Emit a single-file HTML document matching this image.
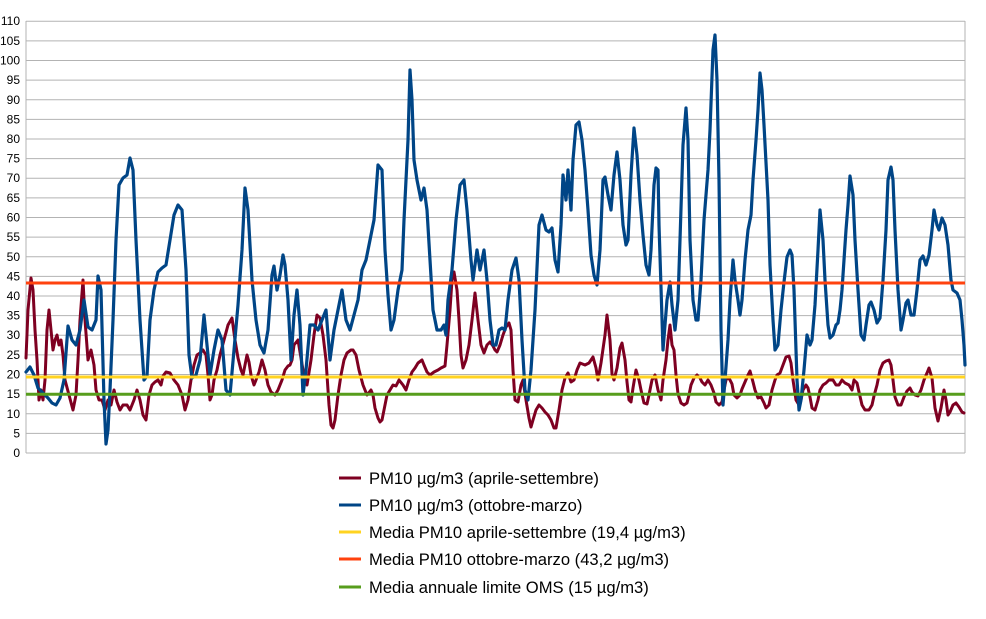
<!DOCTYPE html>
<html><head><meta charset="utf-8"><style>body{margin:0;background:#fff}svg{display:block;font-family:"Liberation Sans",sans-serif}</style></head><body>
<svg width="986" height="619" viewBox="0 0 986 619" xmlns="http://www.w3.org/2000/svg">
<g stroke="#b3b3b3" stroke-width="1">
<line x1="26" x2="965" y1="21.25" y2="21.25"/><line x1="26" x2="965" y1="40.9" y2="40.9"/><line x1="26" x2="965" y1="60.5" y2="60.5"/><line x1="26" x2="965" y1="80.1" y2="80.1"/><line x1="26" x2="965" y1="99.75" y2="99.75"/><line x1="26" x2="965" y1="119.4" y2="119.4"/><line x1="26" x2="965" y1="139" y2="139"/><line x1="26" x2="965" y1="158.6" y2="158.6"/><line x1="26" x2="965" y1="178.25" y2="178.25"/><line x1="26" x2="965" y1="197.9" y2="197.9"/><line x1="26" x2="965" y1="217.5" y2="217.5"/><line x1="26" x2="965" y1="237.1" y2="237.1"/><line x1="26" x2="965" y1="256.75" y2="256.75"/><line x1="26" x2="965" y1="276.4" y2="276.4"/><line x1="26" x2="965" y1="296" y2="296"/><line x1="26" x2="965" y1="315.6" y2="315.6"/><line x1="26" x2="965" y1="335.25" y2="335.25"/><line x1="26" x2="965" y1="354.9" y2="354.9"/><line x1="26" x2="965" y1="374.5" y2="374.5"/><line x1="26" x2="965" y1="394.1" y2="394.1"/><line x1="26" x2="965" y1="413.75" y2="413.75"/><line x1="26" x2="965" y1="433.4" y2="433.4"/><line x1="26" x2="965" y1="453" y2="453"/>
<line x1="26" x2="26" y1="21" y2="453"/><line x1="965" x2="965" y1="21" y2="453"/>
</g>
<g font-size="12" fill="#000" text-anchor="end">
<text x="20" y="25">110</text><text x="20" y="45">105</text><text x="20" y="64.5">100</text><text x="20" y="84">95</text><text x="20" y="104">90</text><text x="20" y="123.5">85</text><text x="20" y="143">80</text><text x="20" y="162.5">75</text><text x="20" y="182">70</text><text x="20" y="202">65</text><text x="20" y="221.5">60</text><text x="20" y="241">55</text><text x="20" y="261">50</text><text x="20" y="280.5">45</text><text x="20" y="300">40</text><text x="20" y="319.5">35</text><text x="20" y="339">30</text><text x="20" y="359">25</text><text x="20" y="378.5">20</text><text x="20" y="398">15</text><text x="20" y="418">10</text><text x="20" y="437.5">5</text><text x="20" y="457">0</text>
</g>
<g fill="none" stroke-linejoin="round" stroke-linecap="round">
<polyline stroke="#7e0021" stroke-width="3" points="26,358 28,310 31,278 33,290 35,330 37,360 39,400 41,390 43,400 45,380 47,330 49,310 51,330 53,350 55,340 57,335 59,345 61,340 63,355 65,380 69,395 73,410 76,395 78,360 80,320 83,280 85,320 88,360 91,350 94,365 96,390 99,400 102,400 105,410 108,400 111,405 114,390 117,402 120,410 123,405 127,405 130,410 134,400 137,390 140,400 143,415 146,420 149,395 152,385 155,382 158,380 161,385 163,376 166,372 170,373 174,380 178,385 182,395 185,410 188,400 191,380 194,365 197,355 200,353 203,350 206,355 208,375 210,400 212,395 214,380 217,370 220,355 224,340 228,325 232,318 235,340 238,358 241,370 243,375 245,365 247,355 249,362 251,375 254,385 256,380 259,372 262,360 265,370 268,385 271,392 275,395 278,390 282,380 285,370 288,366 290,365 292,360 294,345 298,340 300,352 303,370 307,385 311,360 314,335 317,315 320,318 323,335 326,360 329,405 331,425 333,428 335,420 338,395 341,375 344,360 347,353 351,350 353,350 356,355 359,370 363,385 367,395 371,390 373,395 375,408 378,418 380,422 382,420 384,410 387,395 390,390 393,385 396,386 399,380 403,385 406,390 409,380 412,372 415,368 418,363 422,360 424,365 427,372 430,375 434,372 438,370 441,368 445,366 447,345 450,310 452,280 454,272 457,290 459,320 461,355 463,368 466,360 469,345 472,320 475,293 478,320 481,345 484,353 487,345 490,342 493,346 495,350 497,352 500,345 503,335 506,327 509,323 511,330 513,370 515,400 518,402 521,385 523,380 526,400 529,418 531,427 533,420 536,410 539,405 542,408 545,412 548,415 551,420 554,428 556,428 559,410 562,390 565,378 568,373 571,382 574,380 577,370 580,363 585,365 589,363 593,357 596,368 598,380 601,363 605,335 607,315 610,340 612,374 614,380 617,368 620,348 622,343 625,360 627,382 629,400 631,402 633,388 636,370 639,380 641,390 644,403 647,404 649,395 652,380 655,375 658,390 661,400 663,380 666,360 668,340 670,325 672,345 674,350 676,375 678,394 681,403 684,405 687,403 689,395 691,385 694,378 697,375 700,378 702,382 705,385 708,380 711,385 714,393 716,402 719,405 722,402 724,390 726,380 728,377 730,380 732,384 734,395 737,398 740,395 742,389 745,382 748,375 750,371 753,382 755,390 758,398 761,397 764,403 766,408 769,405 772,390 775,380 777,375 780,373 783,365 786,357 789,356 791,363 793,380 796,400 799,405 801,400 803,390 806,385 808,388 810,397 812,408 815,410 818,400 820,390 823,385 826,383 829,380 833,380 836,385 839,385 842,380 845,383 849,385 852,390 854,380 857,383 859,392 862,405 865,410 869,410 872,405 874,396 877,385 880,370 883,363 886,361 889,360 891,365 893,380 895,397 898,405 901,405 904,397 907,391 910,388 912,392 915,395 918,396 921,390 924,380 927,373 929,368 932,378 935,408 938,421 941,408 944,390 946,400 948,415 950,412 953,405 956,403 959,407 962,412 964,413"/>
<polyline stroke="#004586" stroke-width="3.2" points="26,372 30,367 34,375 38,388 42,392 48,398 52,403 56,405 60,398 64,380 68,326 72,340 76,345 80,330 84,300 88,327 92,330 96,320 98,276 101,290 104,400 106,444 108,430 110,390 113,320 116,240 119,185 123,178 127,175 130,158 133,170 136,240 140,320 144,380 147,376 150,320 154,290 158,272 162,268 166,265 170,240 174,215 178,205 182,210 186,270 189,355 192,378 196,375 200,360 204,315 207,345 210,375 214,350 218,330 222,340 226,390 230,395 234,350 238,305 242,250 245,188 248,210 252,280 256,320 260,345 264,353 268,330 272,275 274,266 277,290 280,275 283,255 285,265 288,300 291,360 294,315 297,290 300,325 303,395 306,370 310,325 314,325 318,330 322,320 326,310 330,360 334,330 338,310 342,290 346,320 350,330 354,315 358,300 362,270 366,260 370,240 374,220 378,165 382,170 385,250 388,295 391,330 394,320 398,290 402,270 404,220 408,140 410,70 412,100 414,160 417,180 421,200 424,188 427,210 430,260 433,310 437,330 441,330 444,325 446,335 448,300 452,270 456,220 460,185 464,180 467,210 471,260 473,280 477,250 480,270 484,250 487,280 490,320 493,345 496,345 499,330 502,328 505,330 508,300 512,270 516,258 519,280 522,340 525,390 528,400 531,370 535,310 539,225 542,215 546,230 549,232 552,228 555,260 558,272 561,225 563,175 566,200 568,170 571,210 573,160 576,125 579,122 582,140 585,170 588,210 591,255 594,275 597,285 600,250 603,180 605,177 608,195 611,210 614,175 617,152 620,180 623,225 626,245 628,240 631,175 634,128 637,155 640,200 643,235 646,265 649,275 651,250 654,185 656,168 658,170 659,225 663,350 667,300 670,282 672,305 675,330 678,300 680,240 683,145 686,108 688,140 690,240 693,300 696,320 698,320 701,280 704,220 708,170 710,130 713,50 715,35 717,80 719,180 721,330 723,405 725,380 728,340 730,300 733,260 735,280 738,300 740,315 742,300 745,260 748,230 751,215 753,180 756,140 758,110 760,73 762,90 764,125 768,200 770,265 773,320 775,350 778,345 781,310 784,282 787,257 790,250 792,255 794,290 797,380 799,410 801,400 804,370 807,335 810,345 812,340 815,305 818,250 820,210 823,240 825,280 828,325 830,338 833,335 836,325 838,323 840,310 842,290 844,260 846,230 848,205 850,176 853,195 855,240 858,290 861,335 864,340 866,325 869,305 871,302 874,310 877,323 880,318 883,280 886,230 888,180 891,167 893,180 895,230 898,290 901,330 903,320 906,303 908,300 911,315 914,315 917,290 920,260 923,256 926,265 929,255 932,230 934,210 937,225 939,230 942,218 945,225 948,245 951,280 953,290 957,293 960,300 962,320 964,345 965,365"/>
</g>
<line x1="26" x2="965" y1="377" y2="377" stroke="#ffd320" stroke-width="3"/>
<line x1="26" x2="965" y1="283" y2="283" stroke="#ff420e" stroke-width="3"/>
<line x1="26" x2="965" y1="394.3" y2="394.3" stroke="#579d1c" stroke-width="3"/>
<g font-size="16.6" fill="#000">
<line x1="339" x2="361" y1="478" y2="478" stroke="#7e0021" stroke-width="3"/><text x="369" y="484">PM10 µg/m3 (aprile-settembre)</text>
<line x1="339" x2="361" y1="505" y2="505" stroke="#004586" stroke-width="3"/><text x="369" y="511">PM10 µg/m3 (ottobre-marzo)</text>
<line x1="339" x2="361" y1="532" y2="532" stroke="#ffd320" stroke-width="3"/><text x="369" y="538">Media PM10 aprile-settembre (19,4 µg/m3)</text>
<line x1="339" x2="361" y1="559" y2="559" stroke="#ff420e" stroke-width="3"/><text x="369" y="565">Media PM10 ottobre-marzo (43,2 µg/m3)</text>
<line x1="339" x2="361" y1="587" y2="587" stroke="#579d1c" stroke-width="3"/><text x="369" y="593">Media annuale limite OMS (15 µg/m3)</text>
</g>
</svg>
</body></html>
